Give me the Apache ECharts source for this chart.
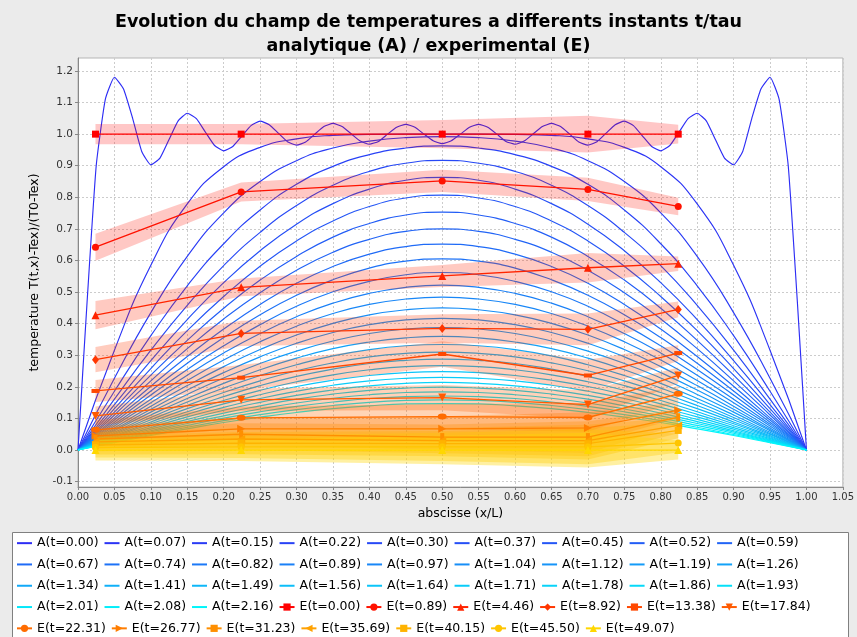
<!DOCTYPE html>
<html><head><meta charset="utf-8">
<script src="https://cdn.jsdelivr.net/npm/echarts@6/dist/echarts.min.js"></script>
<style>html,body{margin:0;padding:0;background:#ebebeb}#c{width:857px;height:637px}</style>
</head><body><div id="c"></div>
<script>
// ---------- data ----------
const titleText = 'Evolution du champ de temperatures a differents instants t/tau\nanalytique (A) / experimental (E)';
const xName = 'abscisse (x/L)';
const yName = 'temperature T(t,x)-Tex)/(T0-Tex)';
const yTicks = [-0.1, 0.0, 0.1, 0.2, 0.3, 0.4, 0.5, 0.6, 0.7, 0.8, 0.9, 1.0, 1.1, 1.2];

const A_times = ['0.00','0.07','0.15','0.22','0.30','0.37','0.45','0.52','0.59','0.67','0.74','0.82','0.89','0.97','1.04','1.12','1.19','1.26','1.34','1.41','1.49','1.56','1.64','1.71','1.78','1.86','1.93','2.01','2.08','2.16'];
const E_times = ['0.00','0.89','4.46','8.92','13.38','17.84','22.31','26.77','31.23','35.69','40.15','45.50','49.07'];

// A(t=0.00) profile
const A00_x = [0,0.0125,0.025,0.0375,0.05,0.0625,0.075,0.0875,0.1,0.1125,0.125,0.1375,0.15,0.1625,0.175,0.1875,0.2,0.2125,0.225,0.2375,0.25,0.2625,0.275,0.2875,0.3,0.3125,0.325,0.3375,0.35,0.3625,0.375,0.3875,0.4,0.4125,0.425,0.4375,0.45,0.4625,0.475,0.4875,0.5,
  0.5125,0.525,0.5375,0.55,0.5625,0.575,0.5875,0.6,0.6125,0.625,0.6375,0.65,0.6625,0.675,0.6875,0.7,0.7125,0.725,0.7375,0.75,0.7625,0.775,0.7875,0.8,0.8125,0.825,0.8375,0.85,0.8625,0.875,0.8875,0.9,0.9125,0.925,0.9375,0.95,0.9625,0.975,0.9875,1.0];
const A00_y = [0,0.47,0.90,1.11,1.18,1.143,1.05,0.945,0.903,0.924,0.983,1.042,1.066,1.049,1.006,0.964,0.947,0.961,0.994,1.027,1.041,1.030,1.003,0.976,0.965,0.975,1.000,1.024,1.034,1.024,1.001,0.978,0.968,0.977,1.000,1.022,1.031,1.022,1.000,0.979,0.970,
  0.979,1.000,1.022,1.031,1.022,1.000,0.977,0.968,0.978,1.001,1.024,1.034,1.024,1.000,0.975,0.965,0.976,1.003,1.030,1.041,1.027,0.994,0.961,0.947,0.964,1.006,1.049,1.066,1.042,0.983,0.924,0.903,0.945,1.05,1.143,1.18,1.11,0.90,0.47,0];

// other analytic profiles, sampled at xA
const xA = [0,0.05,0.1,0.15,0.2,0.25,0.3,0.35,0.4,0.45,0.5,0.55,0.6,0.65,0.7,0.75,0.8,0.85,0.9,0.95,1.0];
const A01 = [0,0.316,0.585,0.779,0.897,0.958,0.985,0.996,0.999,1.000,1.000,1.000,0.999,0.996,0.985,0.958,0.897,0.779,0.585,0.316,0];
const A02 = [0,0.227,0.435,0.613,0.751,0.850,0.916,0.956,0.978,0.989,0.992,0.989,0.978,0.956,0.916,0.850,0.751,0.613,0.435,0.227,0];
const A03 = [0,0.186,0.362,0.520,0.653,0.760,0.841,0.898,0.935,0.956,0.963,0.956,0.935,0.898,0.841,0.760,0.653,0.520,0.362,0.186,0];
const A04 = [0,0.161,0.316,0.458,0.584,0.689,0.774,0.838,0.882,0.908,0.917,0.908,0.882,0.838,0.774,0.689,0.584,0.458,0.316,0.161,0];
const A05 = [0,0.144,0.283,0.413,0.530,0.631,0.715,0.780,0.826,0.854,0.863,0.854,0.826,0.780,0.715,0.631,0.530,0.413,0.283,0.144,0];
const A06 = [0,0.131,0.258,0.378,0.486,0.582,0.662,0.725,0.771,0.798,0.807,0.798,0.771,0.725,0.662,0.582,0.486,0.378,0.258,0.131,0];
const A07 = [0,0.120,0.237,0.347,0.449,0.538,0.613,0.674,0.717,0.744,0.753,0.744,0.717,0.674,0.613,0.538,0.449,0.347,0.237,0.120,0];
const A08 = [0,0.111,0.219,0.321,0.415,0.498,0.569,0.626,0.667,0.692,0.700,0.692,0.667,0.626,0.569,0.498,0.415,0.321,0.219,0.111,0];
const A09 = [0,0.102,0.202,0.296,0.383,0.461,0.528,0.581,0.620,0.644,0.652,0.644,0.620,0.581,0.528,0.461,0.383,0.296,0.202,0.102,0];
const A10 = [0,0.095,0.187,0.275,0.356,0.428,0.490,0.539,0.576,0.598,0.605,0.598,0.576,0.539,0.490,0.428,0.356,0.275,0.187,0.095,0];
const A11 = [0,0.088,0.174,0.255,0.330,0.397,0.455,0.501,0.534,0.555,0.562,0.555,0.534,0.501,0.455,0.397,0.330,0.255,0.174,0.088,0];
const A12 = [0,0.082,0.161,0.237,0.307,0.369,0.422,0.465,0.496,0.515,0.522,0.515,0.496,0.465,0.422,0.369,0.307,0.237,0.161,0.082,0];
const A13 = [0,0.076,0.150,0.220,0.285,0.343,0.392,0.432,0.461,0.478,0.484,0.478,0.461,0.432,0.392,0.343,0.285,0.220,0.150,0.076,0];
const A14 = [0,0.070,0.139,0.204,0.264,0.318,0.364,0.401,0.428,0.444,0.450,0.444,0.428,0.401,0.364,0.318,0.264,0.204,0.139,0.070,0];
const A15 = [0,0.065,0.129,0.190,0.245,0.295,0.338,0.372,0.397,0.412,0.417,0.412,0.397,0.372,0.338,0.295,0.245,0.190,0.129,0.065,0];
const A16 = [0,0.061,0.120,0.176,0.228,0.274,0.313,0.345,0.369,0.383,0.388,0.383,0.369,0.345,0.313,0.274,0.228,0.176,0.120,0.061,0];
const A17 = [0,0.056,0.111,0.163,0.211,0.254,0.291,0.321,0.342,0.355,0.360,0.355,0.342,0.321,0.291,0.254,0.211,0.163,0.111,0.056,0];
const A18 = [0,0.052,0.103,0.152,0.196,0.236,0.270,0.298,0.318,0.330,0.334,0.330,0.318,0.298,0.270,0.236,0.196,0.152,0.103,0.052,0];
const A19 = [0,0.049,0.096,0.141,0.182,0.219,0.251,0.276,0.295,0.306,0.310,0.306,0.295,0.276,0.251,0.219,0.182,0.141,0.096,0.049,0];
const A20 = [0,0.045,0.089,0.131,0.169,0.204,0.233,0.256,0.274,0.284,0.288,0.284,0.274,0.256,0.233,0.204,0.169,0.131,0.089,0.045,0];
const A21 = [0,0.042,0.083,0.121,0.157,0.189,0.216,0.238,0.254,0.264,0.267,0.264,0.254,0.238,0.216,0.189,0.157,0.121,0.083,0.042,0];
const A22 = [0,0.039,0.077,0.113,0.146,0.175,0.201,0.221,0.236,0.245,0.248,0.245,0.236,0.221,0.201,0.175,0.146,0.113,0.077,0.039,0];
const A23 = [0,0.036,0.071,0.105,0.135,0.163,0.186,0.205,0.219,0.227,0.230,0.227,0.219,0.205,0.186,0.163,0.135,0.105,0.071,0.036,0];
const A24 = [0,0.033,0.066,0.097,0.126,0.151,0.173,0.190,0.203,0.211,0.214,0.211,0.203,0.190,0.173,0.151,0.126,0.097,0.066,0.033,0];
const A25 = [0,0.031,0.061,0.090,0.117,0.140,0.161,0.177,0.189,0.196,0.199,0.196,0.189,0.177,0.161,0.140,0.117,0.090,0.061,0.031,0];
const A26 = [0,0.029,0.057,0.084,0.108,0.130,0.149,0.164,0.175,0.182,0.184,0.182,0.175,0.164,0.149,0.130,0.108,0.084,0.057,0.029,0];
const A27 = [0,0.027,0.053,0.078,0.101,0.121,0.138,0.152,0.163,0.169,0.171,0.169,0.163,0.152,0.138,0.121,0.101,0.078,0.053,0.027,0];
const A28 = [0,0.025,0.049,0.072,0.093,0.112,0.128,0.141,0.151,0.157,0.159,0.157,0.151,0.141,0.128,0.112,0.093,0.072,0.049,0.025,0];
const A29 = [0,0.023,0.046,0.067,0.087,0.104,0.119,0.131,0.140,0.146,0.147,0.146,0.140,0.131,0.119,0.104,0.087,0.067,0.046,0.023,0];

// experimental measurements
const E_x = [0.024, 0.224, 0.5, 0.7, 0.824];
const E00 = [1.000, 1.000, 1.000, 1.000, 1.000];
const E01 = [0.642, 0.817, 0.852, 0.825, 0.771];
const E02 = [0.427, 0.515, 0.551, 0.577, 0.590];
const E03 = [0.286, 0.369, 0.385, 0.382, 0.445];
const E04 = [0.187, 0.229, 0.304, 0.236, 0.307];
const E05 = [0.108, 0.159, 0.166, 0.144, 0.236];
const E06 = [0.064, 0.102, 0.106, 0.103, 0.178];
const E07 = [0.045, 0.067, 0.067, 0.070, 0.126];
const E08 = [0.035, 0.050, 0.041, 0.041, 0.104];
const E09 = [0.026, 0.035, 0.030, 0.030, 0.078];
const E10 = [0.016, 0.022, 0.020, 0.020, 0.062];
const E11 = [0.008, 0.010, 0.010, 0.010, 0.022];
const E12 = [0.000, 0.000, 0.000, 0.000, 0.000];
// half-width of the uncertainty band
const Err00 = [0.032, 0.032, 0.045, 0.058, 0.030];
const Err01 = [0.043, 0.030, 0.035, 0.037, 0.028];
const Err02 = [0.045, 0.028, 0.035, 0.047, 0.023];
const Err03 = [0.040, 0.040, 0.045, 0.050, 0.025];
const Err04 = [0.035, 0.040, 0.040, 0.050, 0.025];
const Err05 = [0.030, 0.035, 0.040, 0.045, 0.025];
const Err06 = [0.030, 0.035, 0.040, 0.045, 0.025];
const Err07 = [0.030, 0.035, 0.040, 0.050, 0.025];
const Err08 = [0.030, 0.035, 0.040, 0.050, 0.025];
const Err09 = [0.030, 0.035, 0.040, 0.050, 0.025];
const Err10 = [0.030, 0.035, 0.040, 0.050, 0.025];
const Err11 = [0.032, 0.035, 0.045, 0.055, 0.030];
const Err12 = [0.033, 0.035, 0.045, 0.055, 0.030];

// ---------- build ----------
const aCurves = [A01,A02,A03,A04,A05,A06,A07,A08,A09,A10,A11,A12,A13,A14,A15,A16,A17,A18,A19,A20,A21,A22,A23,A24,A25,A26,A27,A28,A29];
const eVals = [E00,E01,E02,E03,E04,E05,E06,E07,E08,E09,E10,E11,E12];
const eErr = [Err00,Err01,Err02,Err03,Err04,Err05,Err06,Err07,Err08,Err09,Err10,Err11,Err12];

const FONT = 'DejaVu Sans';
function aColor(i){
  const f = i / 29;
  return 'rgb(' + Math.round(45 * (1 - f)) + ',' + Math.round(45 + 200 * f) + ',' + Math.round(245 + 5 * f) + ')';
}
function eColor(i, a){ const g = Math.round(215 * i / 12); return a == null ? 'rgb(255,' + g + ',0)' : 'rgba(255,' + g + ',0,' + a + ')'; }
const eSym = [
  {s:'rect', z:7}, {s:'circle', z:7}, {s:'triangle', z:8}, {s:'diamond', z:[7,9]},
  {s:'rect', z:[8,4]}, {s:'triangle', z:8, r:180}, {s:'circle', z:[9,6]}, {s:'triangle', z:8, r:-90},
  {s:'rect', z:[4,8]}, {s:'triangle', z:8, r:90}, {s:'rect', z:7}, {s:'circle', z:7}, {s:'triangle', z:8}
];

const series = [];
const legendItems = [];
A_times.forEach((t, i) => {
  const name = 'A(t=' + t + ')';
  legendItems.push({name, itemStyle: {opacity: 0}});
  const data = i === 0 ? A00_x.map((x, j) => [x, A00_y[j]]) : xA.map((x, j) => [x, aCurves[i - 1][j]]);
  series.push({
    name, type: 'line', data, symbol: 'none', smooth: i === 0 ? 0.15 : true,
    lineStyle: {width: 1.15, color: aColor(i)}, itemStyle: {color: aColor(i)},
    z: 2, silent: true, animation: false
  });
});
series.push({
  type: 'custom', z: 3, silent: true, animation: false, clip: true,
  data: eVals.map((v, i) => [0.5, 0.5, i]),
  encode: {x: 0, y: 1},
  renderItem: function (params, api) {
    const i = api.value(2);
    const top = [], bot = [];
    for (let j = 0; j < E_x.length; j++) {
      top.push(api.coord([E_x[j], eVals[i][j] + eErr[i][j]]));
      bot.unshift(api.coord([E_x[j], eVals[i][j] - eErr[i][j]]));
    }
    return {type: 'polygon', shape: {points: top.concat(bot)}, style: {fill: eColor(i, 0.22 + 0.012 * i), stroke: null}};
  }
});
E_times.forEach((t, i) => {
  const name = 'E(t=' + t + ')';
  legendItems.push({name});
  series.push({
    name, type: 'line', data: E_x.map((x, j) => [x, eVals[i][j]]),
    symbol: eSym[i].s, symbolSize: eSym[i].z, symbolRotate: eSym[i].r || 0, showSymbol: true,
    lineStyle: {width: 1.3, color: eColor(i)}, itemStyle: {color: eColor(i)},
    z: 4, silent: true, animation: false
  });
});

const chart = echarts.init(document.getElementById('c'));
chart.setOption({
  backgroundColor: '#ebebeb',
  animation: false,
  title: {
    text: titleText, left: 'center', top: 5,
    textStyle: {fontFamily: FONT, fontSize: 17.5, fontWeight: 'bold', color: '#000', lineHeight: 24}
  },
  graphic: [{
    type: 'rect', left: 12, top: 532, z: 0,
    shape: {width: 836, height: 120},
    style: {fill: '#fff', stroke: '#808080', lineWidth: 1}
  }],
  legend: {
    data: legendItems, left: 16, top: 535, width: 830, padding: 0,
    itemWidth: 15, itemHeight: 9, itemGap: 5, selectedMode: false, z: 5,
    textStyle: {fontFamily: FONT, fontSize: 12.5, color: '#000', lineHeight: 16.3}
  },
  grid: {left: 78, right: 10, top: 58, bottom: 150, show: true, backgroundColor: '#fff', borderColor: '#b5b5b5', borderWidth: 1},
  xAxis: {
    type: 'value', min: 0, max: 1.05, interval: 0.05,
    name: xName, nameLocation: 'middle', nameGap: 20,
    nameTextStyle: {fontFamily: FONT, fontSize: 12.5, color: '#000'},
    axisLine: {show: true, onZero: false, lineStyle: {color: '#888'}},
    axisTick: {show: true, length: 3, lineStyle: {color: '#888'}},
    axisLabel: {fontFamily: FONT, fontSize: 10, color: '#333', margin: 5, formatter: v => v.toFixed(2)},
    splitLine: {show: true, lineStyle: {color: '#cccccc', type: [2, 2], width: 1}}
  },
  yAxis: {
    type: 'value', min: -0.117, max: 1.241,
    name: yName, nameLocation: 'middle', nameGap: 32, nameRotate: 90,
    nameTextStyle: {fontFamily: FONT, fontSize: 12.5, color: '#000'},
    axisLine: {show: true, onZero: false, lineStyle: {color: '#888'}},
    axisTick: {show: true, length: 3, lineStyle: {color: '#888'}, customValues: yTicks},
    axisLabel: {fontFamily: FONT, fontSize: 10.5, color: '#333', margin: 5, customValues: yTicks, formatter: v => v.toFixed(1)},
    splitLine: {show: true, lineStyle: {color: '#cccccc', type: [2, 2], width: 1}}
  },
  series
});
</script></body></html>
